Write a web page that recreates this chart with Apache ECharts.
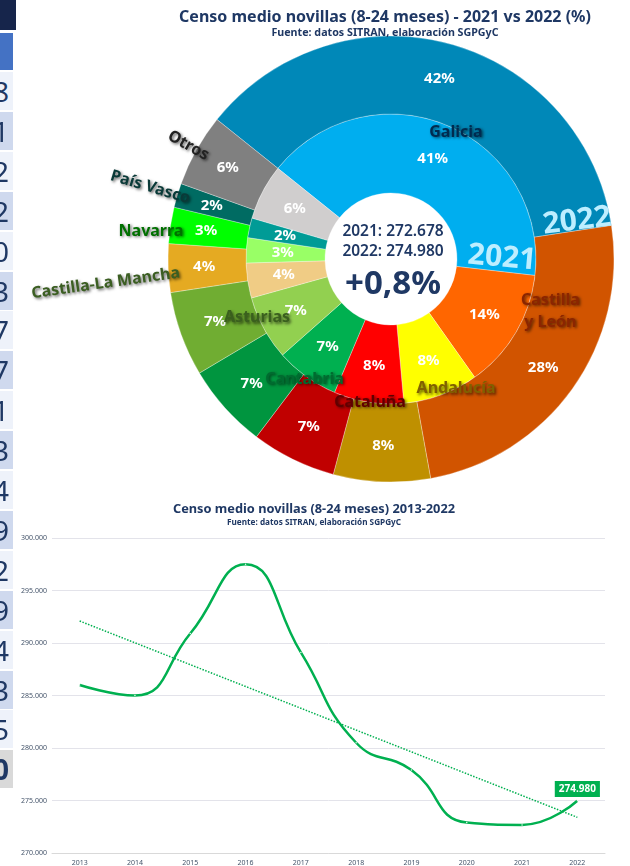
<!DOCTYPE html>
<html>
<head>
<meta charset="utf-8">
<script src="https://cdn.jsdelivr.net/npm/echarts@6/dist/echarts.min.js"></script>
<style>
  body { margin:0; background:#fff; }
  #chart { width:630px; height:866px; }
  #tabla { position:absolute; left:0; top:0; width:20px; height:866px; z-index:2; font-family:'Noto Sans','Open Sans',sans-serif; }
  .celda { position:absolute; left:0; width:13px; height:38px; overflow:hidden; }
  .celda span { position:absolute; right:4px; top:0; line-height:38px; font-size:28px; color:#1F3864; }
</style>
</head>
<body>
<div id="tabla"></div>
<div id="chart"></div>
<script type="text/javascript">
  // datos del anillo (cuota por comunidad)
  var regiones = ['Galicia','Castilla y León','Andalucía','Cataluña','Cantabria','Asturias','Castilla-La Mancha','Navarra','País Vasco','Otros'];
  var nombresEtiqueta = ['Galicia','Castilla\ny León','Andalucía','Cataluña','Cantabria','Asturias','Castilla-La Mancha','Navarra','País Vasco','Otros'];
  var cuota2021 = [41.1, 13.4, 8.4, 7.8, 7.1, 7.2, 3.9, 2.8, 2.2, 6.2];
  var etiq2021 = ['41%','14%','8%','8%','7%','7%','4%','3%','2%','6%'];
  var cuota2022 = [42, 28, 8, 7, 7, 7, 4, 3, 2, 6];

  // serie anual
  var anios = ['2013','2014','2015','2016','2017','2018','2019','2020','2021','2022'];
  var censo = [286000, 285000, 290900, 297500, 289100, 280500, 277900, 272900, 272678, 274980];
  var ejeY = [270000, 300000, 5000];

  // tabla recortada de la izquierda
  var digitosTabla = ['8','1','2','2','0','3','7','7','1','3','4','9','2','9','4','3','5','0'];

  var colores2022 = ['#0088B8','#D15400','#BF9000','#C00000','#00953F','#70AD32','#E5AA22','#00FF00','#006B62','#808080'];
  var colores2021 = ['#00AEEF','#FF6600','#FFFF00','#FF0000','#00B050','#92D050','#F0CC85','#99FF66','#009B96','#D0CECE'];
  var coloresNombre = ['#002B50','#8B2500','#806000','#600000','#006B30','#3A5F1E','#3B5E22','#007000','#0A3A38','#222222'];
  var fuente = "'Noto Sans','Open Sans',sans-serif";
  var navy = '#1F3864';

  // tabla (html)
  var tabla = document.getElementById('tabla');
  var top0 = document.createElement('div');
  top0.style.cssText = 'position:absolute;left:0;top:0;width:16px;height:30px;background:#16254B;';
  tabla.appendChild(top0);
  var cab = document.createElement('div');
  cab.style.cssText = 'position:absolute;left:0;top:33px;width:13px;height:37px;background:#4472C4;';
  tabla.appendChild(cab);
  for (var i = 0; i < digitosTabla.length; i++) {
    var c = document.createElement('div');
    c.className = 'celda';
    c.style.top = (72 + i * 39.9) + 'px';
    var ultimo = i == digitosTabla.length - 1;
    c.style.background = ultimo ? '#D9D9D9' : (i % 2 ? '#CFD9EE' : '#EEF2FA');
    var s = document.createElement('span');
    s.textContent = digitosTabla[i];
    if (ultimo) s.style.fontWeight = 'bold';
    c.appendChild(s);
    tabla.appendChild(c);
  }

  function miles(v) {
    return Math.round(v).toString().replace(/\B(?=(\d{3})+(?!\d))/g, '.');
  }

  // recta de tendencia (minimos cuadrados)
  function tendencia(ys) {
    var n = ys.length, sx = 0, sy = 0, sxy = 0, sxx = 0;
    for (var i = 0; i < n; i++) { sx += i; sy += ys[i]; sxy += i * ys[i]; sxx += i * i; }
    var m = (n * sxy - sx * sy) / (n * sxx - sx * sx);
    var b = (sy - m * sx) / n;
    return [b, b + m * (n - 1)];
  }
  var tend = tendencia(censo);

  var ult = censo[censo.length - 1], pen = censo[censo.length - 2];
  var variacion = (ult / pen - 1) * 100;
  var txtVar = (variacion >= 0 ? '+' : '') + variacion.toFixed(1).replace('.', ',') + '%';

  var nombreStyle = {
    fontFamily: fuente, fontWeight: 'bold', fontSize: 16,
    textShadowColor: 'rgba(0,0,0,0.6)', textShadowBlur: 3, textShadowOffsetX: 1.5, textShadowOffsetY: 1.5
  };
  // ajuste fino de algunos nombres
  var despNombre = { 0: [8, 10], 1: [32, -23], 2: [14, -9], 3: [2, -3], 5: [-4, -12] };
  var despNombreExt = { 7: [0, 4], 6: [-2, 5] };
  var rotNombreExt = { 6: 8, 7: 0 };

  function texto(x, y, t, font, extra) {
    var o = { type: 'text', x: x, y: y, z: 10, style: { text: t, fill: navy, font: font, textAlign: 'center', textVerticalAlign: 'middle' } };
    if (extra) echarts.util.extend(o, extra);
    return o;
  }

  var myChart = echarts.init(document.getElementById('chart'));
  myChart.setOption({
    animation: false,
    graphic: [
      texto(385, 17, 'Censo medio novillas (8-24 meses) - 2021 vs 2022 (%)', 'bold 16px ' + fuente),
      texto(385, 33, 'Fuente: datos SITRAN, elaboración SGPGyC', 'bold 10.7px ' + fuente),
      texto(314, 509, 'Censo medio novillas (8-24 meses) 2013-2022', 'bold 12.8px ' + fuente),
      texto(314, 523, 'Fuente: datos SITRAN, elaboración SGPGyC', 'bold 8.2px ' + fuente),
      texto(393, 232, anios[anios.length - 2] + ': ' + miles(pen), '600 15.5px ' + fuente),
      texto(393, 252, anios[anios.length - 1] + ': ' + miles(ult), '600 15.5px ' + fuente),
      texto(393, 285, txtVar, 'bold 33px ' + fuente),
      { type: 'text', x: 502, y: 258, z: 3, rotation: -5 * Math.PI / 180, style: { text: '2021', fill: '#BDEEFF', font: 'bold 30px ' + fuente, textAlign: 'center', textVerticalAlign: 'middle' } },
      { type: 'text', x: 577, y: 221, z: 5, rotation: 7 * Math.PI / 180, style: { text: '2022', fill: '#BDEEFF', font: 'bold 30px ' + fuente, textAlign: 'center', textVerticalAlign: 'middle' } }
    ],
    grid: { left: 52, right: 25, top: 538, height: 315 },
    xAxis: {
      type: 'category', data: anios, boundaryGap: true,
      axisTick: { show: false },
      axisLine: { lineStyle: { color: '#D9D9D9' } },
      axisLabel: { fontSize: 7, color: '#44546A', margin: 6, fontFamily: fuente }
    },
    yAxis: {
      type: 'value', min: ejeY[0], max: ejeY[1], interval: ejeY[2],
      axisLine: { show: false }, axisTick: { show: false },
      axisLabel: { fontSize: 7, color: '#44546A', margin: 5, fontFamily: fuente, formatter: function (v) { return miles(v); } },
      splitLine: { lineStyle: { color: '#E3E3EA' } }
    },
    series: [
      {
        type: 'pie', name: '2022', center: [391, 259], radius: [145, 223], startAngle: 141.3, z: 4,
        silent: true, emphasis: { disabled: true },
        itemStyle: { borderColor: 'rgba(255,255,255,0.6)', borderWidth: 0.5 },
        label: { show: true, position: 'inside', formatter: '{c}%', color: '#fff', fontWeight: 'bold', fontSize: 15, fontFamily: fuente },
        labelLine: { show: false },
        data: regiones.map(function (r, i) { return { name: r, value: cuota2022[i], itemStyle: { color: colores2022[i] } }; })
      },
      {
        type: 'pie', name: '2021', center: [391, 259], radius: [66, 145], startAngle: 141.3, z: 2,
        silent: true, emphasis: { disabled: true },
        itemStyle: { borderColor: 'rgba(255,255,255,0.6)', borderWidth: 0.5 },
        label: { show: true, position: 'inside', color: '#fff', fontWeight: 'bold', fontSize: 15, fontFamily: fuente,
          formatter: function (p) { return etiq2021[p.dataIndex]; } },
        labelLine: { show: false },
        data: regiones.map(function (r, i) { return { name: r, value: cuota2021[i], itemStyle: { color: colores2021[i] } }; })
      },
      {
        // nombres sobre el borde entre anillos
        type: 'pie', name: 'nombres', center: [391, 259], radius: [40, 250], startAngle: 141.3, z: 8,
        silent: true, emphasis: { disabled: true },
        itemStyle: { color: 'rgba(0,0,0,0)', borderWidth: 0 },
        labelLine: { show: false },
        labelLayout: function (p) {
          var d = despNombre[p.dataIndex];
          return d ? { dx: d[0], dy: d[1] } : {};
        },
        data: regiones.map(function (r, i) {
          var lab = echarts.util.extend({ show: i < 6, position: 'inside', color: coloresNombre[i], formatter: nombresEtiqueta[i], lineHeight: 22 }, nombreStyle);
          return { name: r, value: cuota2021[i], label: lab };
        })
      },
      {
        // nombres exteriores
        type: 'pie', name: 'nombresExt', center: [391, 259], radius: [185, 205], startAngle: 141.3, z: 8,
        silent: true, emphasis: { disabled: true }, avoidLabelOverlap: false,
        itemStyle: { color: 'rgba(0,0,0,0)', borderWidth: 0 },
        labelLine: { show: false, length: 5, length2: 0 },
        labelLayout: function (p) {
          var d = despNombreExt[p.dataIndex];
          return d ? { dx: d[0], dy: d[1] } : {};
        },
        data: regiones.map(function (r, i) {
          var lab = echarts.util.extend({ show: i >= 6, position: 'outside', rotate: 'radial', distanceToLabelLine: 0,
            color: coloresNombre[i], formatter: nombresEtiqueta[i] }, nombreStyle);
          if (rotNombreExt[i] != null) lab.rotate = rotNombreExt[i];
          return { name: r, value: cuota2022[i], label: lab };
        })
      },
      {
        type: 'line', name: 'Censo', smooth: 0.5,
        symbol: 'circle', symbolSize: 1.5,
        itemStyle: { color: '#E8F8EE' },
        lineStyle: { color: '#00B050', width: 2.5 },
        data: censo.map(function (v, i) {
          if (i < censo.length - 1) return v;
          return { value: v, label: { show: true, position: 'top', distance: 3, formatter: miles(v),
            backgroundColor: '#00B050', color: '#fff', fontWeight: 'bold', fontSize: 10, fontFamily: fuente, padding: [3, 4] } };
        }),
        markLine: {
          silent: true, symbol: ['none', 'none'], label: { show: false },
          lineStyle: { color: '#00B050', type: 'dotted', width: 1.5 },
          data: [[{ coord: [anios[0], tend[0]] }, { coord: [anios[anios.length - 1], tend[1]] }]]
        }
      }
    ]
  });
</script>
</body>
</html>
